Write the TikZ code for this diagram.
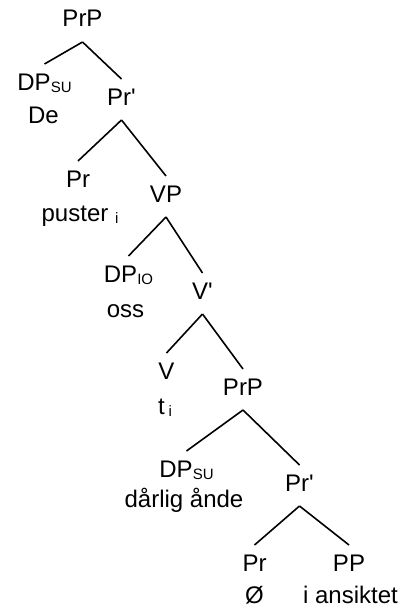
\documentclass[tikz,border=0pt]{standalone}
\usepackage{fontspec}
\setmainfont{Liberation Sans}
\newcommand{\lsub}[1]{\raisebox{-2pt}{\fontsize{15}{17}\selectfont #1}}

\begin{document}
\begin{tikzpicture}[
    x=1pt, y=-1pt,
    CN/.style={anchor=base,inner sep=0pt,outer sep=9pt,text height=17pt,text depth=6pt,font=\fontsize{24}{28}\selectfont},
    WN/.style={anchor=base,inner sep=0pt,font=\fontsize{24}{28}\selectfont},
    LL/.style={draw=black,line width=1.6pt}
    ]
    \useasboundingbox (0,0) rectangle (403,610);
    % categories, placed on their baselines
    \node [CN] (PrP) at (82.5,27) {PrP};
    \node [CN] (DPsu) at (44.5,90) {DP\lsub{SU}};
    \node [CN] (PrB) at (121.5,105) {Pr\textquotesingle};
    \node [CN] (Pr) at (78,187) {Pr};
    \node [CN] (VP) at (166,202) {VP};
    \node [CN] (DPio) at (128.5,282) {DP\lsub{IO}};
    \node [CN] (VB) at (202.5,299) {V\textquotesingle};
    \node [CN] (V) at (166.5,379) {V};
    \node [CN] (PrPb) at (243,395) {PrP};
    \node [CN] (DPsub) at (186.5,477) {DP\lsub{SU}};
    \node [CN] (PrBb) at (299.5,491) {Pr\textquotesingle};
    \node [CN] (Prb) at (254.5,571) {Pr};
    \node [CN] (PP) at (349,571) {PP};
    % words
    \node [WN] (De) at (43.5,123) {De};
    \node [WN] (puster) at (80,221) {puster \lsub{i}};
    \node [WN] (oss) at (125.5,317) {oss};
    \node [WN] (t) at (165,414) {t\,\lsub{i}};
    \node [WN] (aande) at (184,507) {dårlig ånde};
    \node [WN] (null) at (254.5,603) {Ø};
    \node [WN] (ansiktet) at (350.5,603) {i ansiktet};
    % branches
    \draw [LL] (PrP.south) -- (DPsu.north);
    \draw [LL] (PrP.south) -- (PrB.north);
    \draw [LL] (PrB.south) -- (Pr.north);
    \draw [LL] (PrB.south) -- (VP.north);
    \draw [LL] (VP.south) -- (DPio.north);
    \draw [LL] (VP.south) -- (VB.north);
    \draw [LL] (VB.south) -- (V.north);
    \draw [LL] (VB.south) -- (PrPb.north);
    \draw [LL] (PrPb.south) -- (DPsub.north);
    \draw [LL] (PrPb.south) -- (PrBb.north);
    \draw [LL] (PrBb.south) -- (Prb.north);
    \draw [LL] (PrBb.south) -- (PP.north);
\end{tikzpicture}
\end{document}
